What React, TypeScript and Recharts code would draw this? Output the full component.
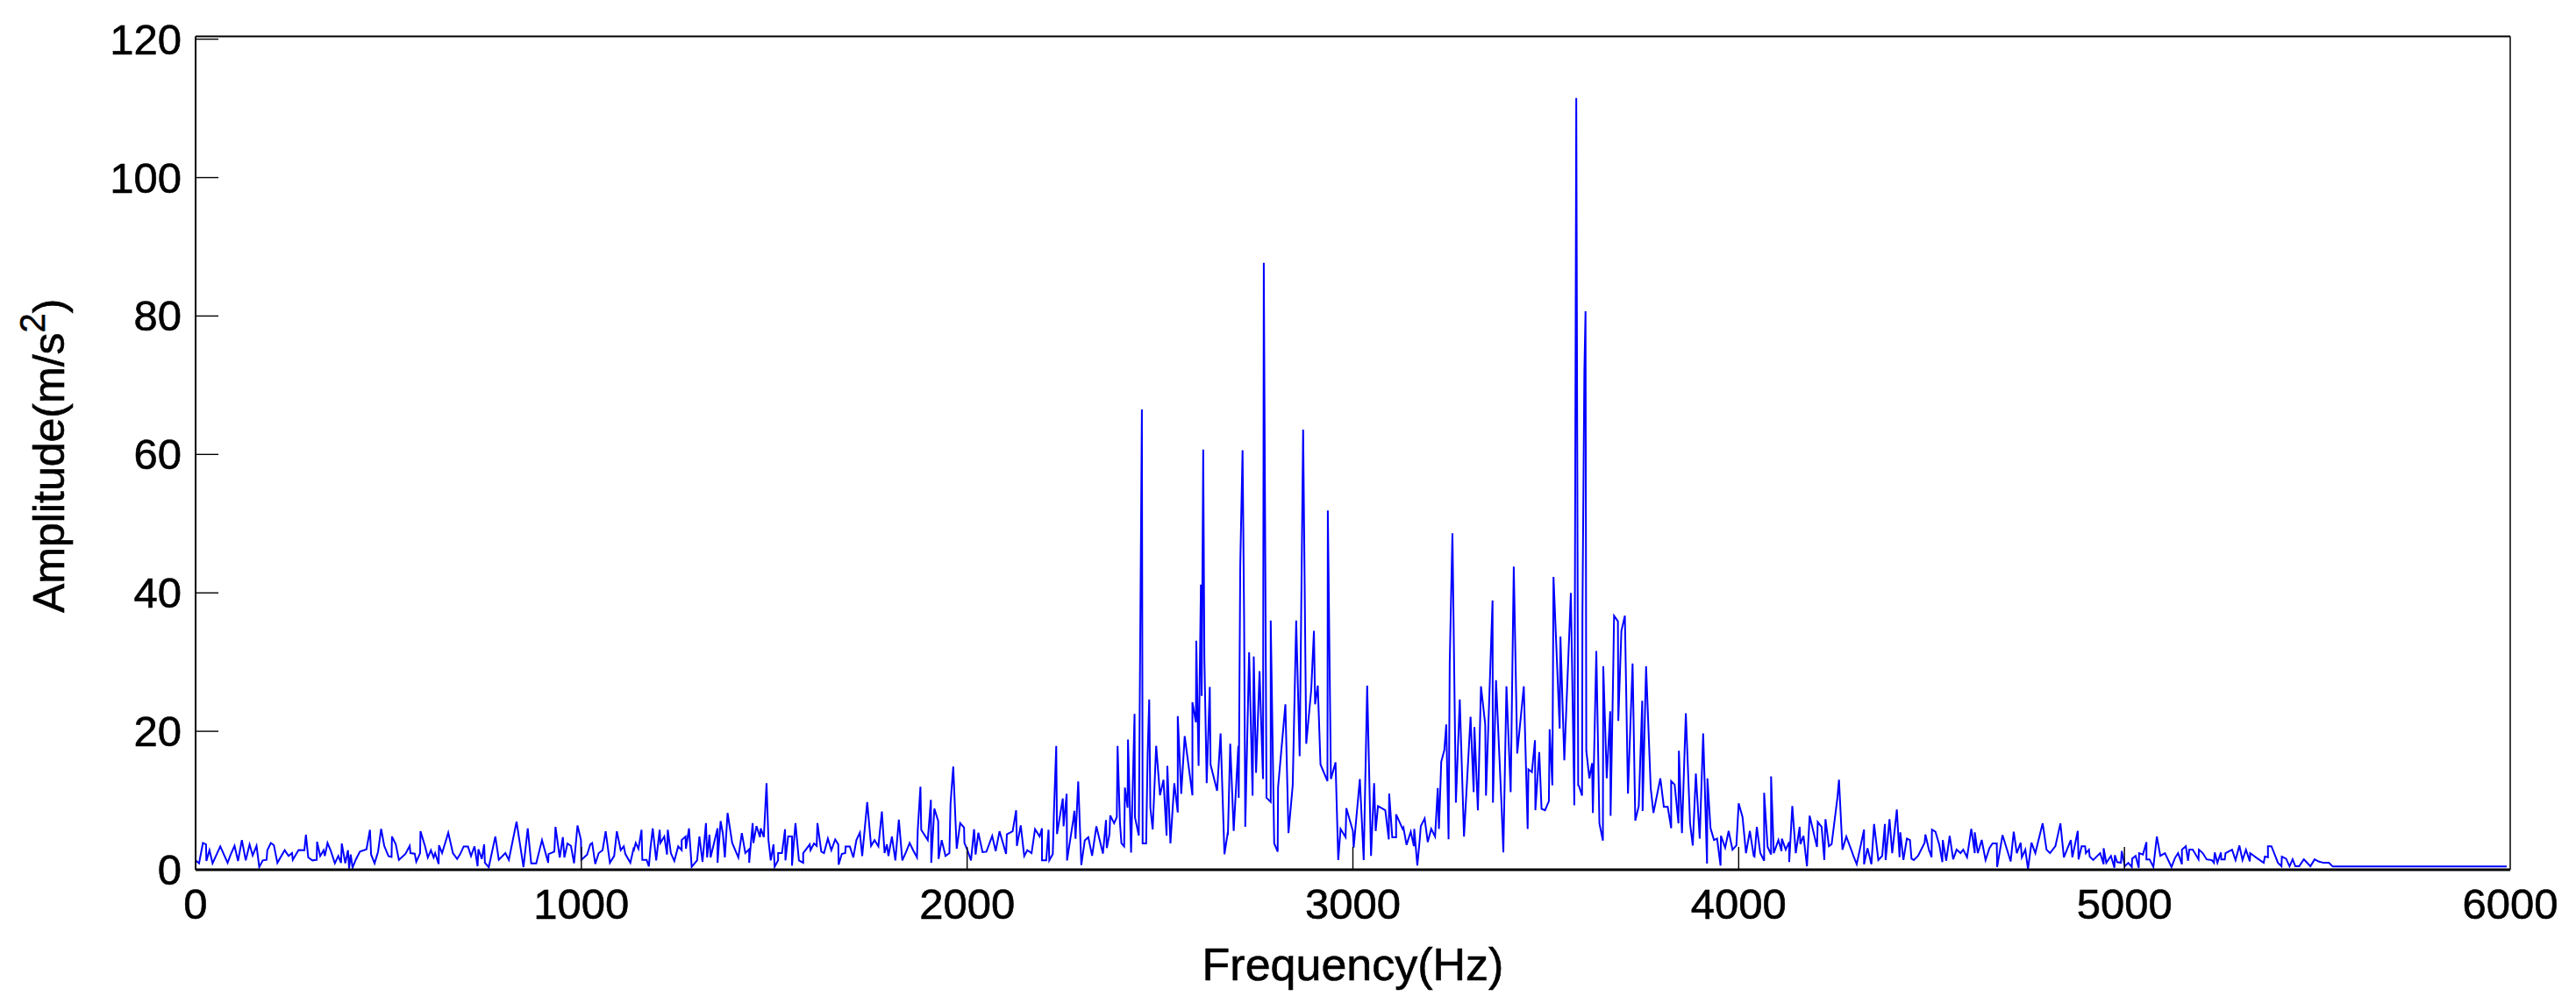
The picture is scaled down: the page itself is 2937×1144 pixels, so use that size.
import { Label, Line, LineChart, XAxis, YAxis } from "recharts";

// Spectrum as [Hz, m/s^2] pairs, split by frequency band.
const band0to1136 = [
  [0,1.35],[9,.93],[19,3.87],[27,3.66],[28,1.26],[36,2.82],[44,.93],[64,3.37],[83,1],[91,2.19],[101,3.45],[110,1.26],[120,4.29],[130,1.35],[140,3.66],[148,2.06],[158,3.45],[165,.38],[174,1.35],[184,1.43],[186,2.82],[195,3.87],[203,3.54],[212,1],[231,2.82],[241,1.98],[250,2.4],[252,1.43],[267,2.85],[282,2.82],[286,5.05],[292,1.77],[303,1.35],[314,1.43],[315,4.04],[323,1.98],[332,2.82],[335,1.98],[342,3.87],[350,2.82],[361,.93],[370,1.98],[377,1],[379,3.79],[388,.93],[395,2.82],[398,.17],[402,2.19],[407,.3],[415,1.43],[426,2.62],[443,2.95],[452,5.77],[455,2.19],[464,.93],[473,2.6],[481,5.9],[489,3.45],[500,1.98],[508,1.85],[509,4.8],[519,3.66],[527,1.43],[544,2.28],[555,3.45],[557,2.4],[568,2.32],[572,1.14],[582,2.4],[583,5.56],[595,3.37],[602,1.77],[610,2.82],[617,1.77],[621,2.4],[630,.84],[631,3.54],[639,2.4],[655,5.35],[667,2.4],[678,1.56],[686,2.27],[695,3.37],[706,3.37],[714,1.98],[723,3.37],[731,.5],[733,2.95],[742,1.56],[748,3.66],[750,1],[760,.38],[777,4.8],[786,1.43],[803,2.4],[812,1.43],[832,6.94],[850,.38],[861,5.98],[870,.93],[883,.93],[898,4.29],[914,1],[915,2.27],[930,2.62],[933,6.19],[944,1.77],[952,4.71],[956,1.77],[964,3.79],[973,3.45],[981,.93],[990,6.4],[999,4.29],[1000,1.43],[1015,2.19],[1023,3.66],[1028,3.87],[1036,.84],[1045,2.4],[1055,2.82],[1063,5.56],[1074,1],[1085,1.98],[1092,5.56],[1102,2.82],[1110,3.37],[1114,2.27],[1127,1],[1136,3.24],
];
const band1137to2213 = [
  [1137,3.03],[1141,3.87],[1148,3.03],[1156,5.77],[1158,1.43],[1169,1.43],[1175,.5],[1179,3.03],[1185,5.98],[1194,1.35],[1203,5.77],[1205,3.87],[1215,4.8],[1222,2.19],[1224,5.77],[1232,2.4],[1241,1.26],[1251,3.37],[1260,2.82],[1260,4.29],[1270,4.8],[1271,3.03],[1279,5.98],[1286,.42],[1300,1.35],[1306,4.8],[1314,1.14],[1323,6.73],[1326,1.77],[1332,5.05],[1335,1.77],[1353,5.98],[1353,1],[1361,7.03],[1367,5.13],[1372,1.77],[1379,8.2],[1391,3.87],[1407,1.77],[1416,5.3],[1425,2.4],[1435,2.95],[1435,1],[1444,6.73],[1446,3.87],[1454,6.31],[1463,4.71],[1465,5.98],[1473,4.71],[1480,12.5],[1485,4.29],[1491,1.35],[1498,3.66],[1501,.42],[1510,1.35],[1510,2.4],[1520,2.4],[1528,5.85],[1529,1.35],[1536,4.8],[1546,4.8],[1546,.59],[1555,6.73],[1564,1.35],[1575,1],[1575,2.4],[1592,3.66],[1594,2.82],[1603,3.79],[1610,3.45],[1612,6.73],[1622,2.61],[1629,2.4],[1639,4.5],[1648,2.82],[1658,4.38],[1666,3.66],[1667,.72],[1675,2.27],[1684,2.4],[1685,3.37],[1696,3.37],[1705,1.77],[1713,4.29],[1722,5.35],[1728,1.98],[1741,9.76],[1751,3.45],[1760,4.29],[1770,3.37],[1779,8.42],[1786,2.4],[1792,3.66],[1796,1.98],[1805,4.8],[1814,1.35],[1823,7.24],[1832,1.35],[1842,2.61],[1851,3.87],[1860,2.82],[1870,1.77],[1872,5.77],[1879,12],[1881,5.77],[1898,4.29],[1906,10.1],[1907,1],[1915,8.84],[1925,7.03],[1926,1.56],[1934,4.29],[1944,1.98],[1954,2.4],[1957,9.55],[1964,14.9],[1970,6.82],[1973,3.03],[1982,6.73],[1992,6.1],[1993,3.87],[2001,2.82],[2010,1.35],[2018,5.85],[2022,2.19],[2029,5.35],[2040,2.54],[2050,2.61],[2065,4.89],[2074,2.7],[2084,5.56],[2101,2.27],[2103,5.13],[2118,5.56],[2127,8.59],[2129,3.45],[2139,6.4],[2148,1.98],[2156,2.82],[2167,2.4],[2176,5.85],[2188,4.8],[2194,5.98],[2194,1.35],[2205,1.35],[2211,5.77],[2213,1.35],
];
const band2222to2675 = [
  [2222,2.24],[2225,8.28],[2231,17.9],[2233,5.15],[2248,10.3],[2250,6.27],[2258,10.97],[2259,1.34],[2275,7.17],[2278,8.51],[2281,4.48],[2288,12.76],[2296,.67],[2305,4.25],[2314,4.7],[2324,2.02],[2335,6.27],[2352,2.33],[2360,7.17],[2362,3.13],[2369,5.15],[2371,7.84],[2381,6.72],[2388,7.61],[2390,17.9],[2396,6.94],[2400,3.81],[2407,3.36],[2409,11.87],[2416,8.96],[2417,18.8],[2425,2.46],[2434,22.5],[2435,7.61],[2445,4.93],[2447,20.6],[2449,35.8],[2453,66.5],[2455,3.81],[2464,3.81],[2468,16.8],[2472,24.6],[2475,8.96],[2481,5.82],[2490,17.9],[2500,10.75],[2509,13],[2517,4.93],[2519,15],[2527,3.81],[2537,12.5],[2546,8.28],[2546,22.2],[2555,10.97],[2564,19.3],[2584,10.75],[2584,24.2],[2593,21.3],[2594,33.1],[2600,15],[2606,41.2],[2608,25.1],[2612,60.7],[2615,30.5],[2621,12.5],[2629,26.4],[2631,15.2],[2648,11.4],[2657,19.7],[2667,2.24],[2675,5.15],
];
const band2676to3129 = [
  [2676,5],[2682,18.2],[2691,5.6],[2703,17.9],[2704,10.4],[2708,44.1],[2714,60.6],[2718,36.3],[2721,6.2],[2731,31.4],[2740,10.7],[2743,30.8],[2749,14],[2758,28.7],[2767,13.1],[2769,87.7],[2776,10.4],[2787,9.8],[2787,36],[2796,3.8],[2805,2.6],[2806,11.9],[2825,23.9],[2833,5.3],[2844,12.2],[2853,36],[2862,16.4],[2871,63.6],[2879,18.2],[2892,26],[2899,34.5],[2902,23.9],[2909,26.6],[2916,15.2],[2934,12.8],[2935,51.9],[2943,13.1],[2955,15.5],[2962,1.4],[2968,5.9],[2981,4.7],[2983,8.9],[3000,5.6],[3002,3.2],[3018,13.1],[3028,1.4],[3037,26.6],[3047,2],[3055,12.5],[3059,5.6],[3065,9.2],[3084,8.6],[3093,4.4],[3094,11],[3102,4.7],[3112,4.7],[3112,8],[3129,5.9],
];
const band3131to3584 = [
  [3131,6.1],[3139,3.6],[3150,5.5],[3158,3.4],[3159,5.9],[3167,.6],[3173,4.2],[3176,6.3],[3186,7.4],[3194,4],[3203,5.9],[3213,4.8],[3220,11.8],[3223,5.9],[3229,15.6],[3237,17.3],[3242,21],[3248,4.4],[3251,29.9],[3258,48.6],[3267,9.7],[3277,24.6],[3288,4.8],[3305,22.1],[3313,11.2],[3315,20.6],[3324,8.6],[3332,26.5],[3343,21],[3345,10.7],[3362,38.9],[3363,9.7],[3371,27.4],[3385,9.7],[3390,2.5],[3398,26.5],[3409,11.2],[3417,43.8],[3426,16.8],[3443,26.5],[3453,5.9],[3455,14.5],[3464,14.1],[3472,18.7],[3473,8.6],[3483,17],[3489,8.8],[3498,8.6],[3508,9.9],[3510,20.3],[3517,12.2],[3520,42.3],[3536,20.4],[3538,33.7],[3548,15.8],[3565,40],[3574,9.3],[3579,111.5],[3584,12.2],
];
const band3586to4039 = [
  [3586,12.1],[3594,10.7],[3595,37],[3600,72],[3603,80.7],[3605,17.2],[3613,13.2],[3620,15.4],[3622,8.2],[3631,31.6],[3639,6.7],[3648,4.2],[3649,29.4],[3658,13.2],[3667,22.9],[3668,7.8],[3675,29.4],[3677,36.7],[3687,35.9],[3688,21.5],[3696,34.5],[3705,36.7],[3713,11],[3725,29.8],[3732,7.1],[3741,9.2],[3750,24.4],[3751,8.5],[3760,29.4],[3772,11.8],[3779,8.2],[3797,13.2],[3806,9.1],[3816,9.1],[3825,6],[3825,12.8],[3834,12.3],[3844,6.7],[3845,17.2],[3853,5.3],[3863,22.6],[3874,6.7],[3881,3.5],[3889,13.9],[3899,4.5],[3908,19.7],[3918,.9],[3919,13.2],[3927,6],[3936,4.3],[3944,4.5],[3953,.6],[3954,4.9],[3965,3.2],[3974,5.6],[3984,2.9],[3994,3.5],[4000,9.6],[4010,7.6],[4019,2.4],[4029,5.6],[4039,2],
];
const band4041to4494 = [
  [4041,1.9],[4047,6.2],[4056,2.4],[4066,1.3],[4066,11.1],[4075,3.3],[4084,2.2],[4084,13.5],[4091,2.4],[4103,4.3],[4111,2.7],[4112,4.5],[4122,2.9],[4131,4],[4131,1.1],[4139,9.2],[4148,2.4],[4158,6.2],[4160,3.7],[4168,4.9],[4177,.5],[4184,7.8],[4203,3.3],[4205,6.9],[4215,6.2],[4222,1.4],[4225,7.3],[4234,3.4],[4241,3.7],[4256,10.4],[4260,13],[4269,2.9],[4279,4.8],[4293,2.7],[4298,1.9],[4306,.8],[4325,5.8],[4325,.8],[4334,3.1],[4344,.8],[4351,6.6],[4362,1.4],[4372,2],[4379,6.6],[4381,1.4],[4391,7.3],[4398,2.4],[4410,8.7],[4417,1.8],[4419,5.4],[4427,1.4],[4436,4.5],[4444,4.3],[4448,1.6],[4454,1.4],[4465,2],[4482,3.9],[4484,5.1],[4494,2.7],
];
const band4495to5991 = [
  [4495,2.65],[4500,1.8],[4501,5.8],[4510,5.5],[4520,3.6],[4528,1.1],[4529,4.3],[4538,1.3],[4547,4.9],[4556,1.5],[4565,2.9],[4575,2.4],[4582,2.9],[4592,1.8],[4603,5.9],[4612,2.4],[4612,5.4],[4620,2.4],[4630,4.3],[4640,1.4],[4650,3.1],[4658,3.8],[4669,3.8],[4670,.4],[4684,5],[4705,1.2],[4713,5.5],[4721,2.4],[4731,3.9],[4734,1.8],[4743,2.9],[4750,.1],[4759,3.9],[4769,2.4],[4788,6.7],[4798,2.9],[4807,2.4],[4821,3.4],[4834,6.7],[4843,1.8],[4861,4.3],[4865,1.8],[4879,5.6],[4881,1.5],[4889,3.4],[4898,3.4],[4900,2.4],[4908,2.9],[4910,1.9],[4919,1.4],[4937,2.4],[4946,.8],[4946,3.1],[4953,1],[4965,2],[4974,.3],[4975,2.1],[4981,1.1],[4991,1],[4993,2.7],[5001,.5],[5010,1],[5019,.4],[5020,1.6],[5029,2],[5037,.3],[5038,2.4],[5048,2.2],[5057,4],[5057,1.5],[5065,1.5],[5075,.4],[5084,4.8],[5093,2],[5105,2.4],[5122,.4],[5131,1.7],[5139,2.4],[5149,.8],[5149,2.9],[5159,3.4],[5165,1.3],[5168,2.9],[5177,2.9],[5192,1.5],[5193,2.9],[5203,2.4],[5213,1.5],[5226,1.4],[5232,1],[5234,2.5],[5241,1],[5250,2.5],[5251,1.5],[5260,1.5],[5262,2.4],[5279,2.9],[5288,1.4],[5298,3.5],[5306,1.4],[5315,2.9],[5325,1.2],[5326,2.4],[5343,1.7],[5361,1],[5364,1.9],[5372,1.8],[5372,3.4],[5381,3.4],[5398,1],[5407,.5],[5408,1.9],[5419,1.6],[5428,.5],[5436,1.5],[5443,.5],[5453,.5],[5465,1.5],[5482,.5],[5493,1.5],[5503,1.2],[5516,1],[5530,1],[5540,.46],[5991,.46],
];

const xTicks = [0, 1000, 2000, 3000, 4000, 5000, 6000];
const yTicks = [0, 20, 40, 60, 80, 100, 120];

const spectrum = [
  ...band0to1136,
  ...band1137to2213,
  ...band2222to2675,
  ...band2676to3129,
  ...band3131to3584,
  ...band3586to4039,
  ...band4041to4494,
  ...band4495to5991,
].map(([hz, amp]) => ({ hz, amp }));

const FONT = '"Liberation Sans", Arial, sans-serif';
const TICK_LEN = 26;
// the reference text is a little heavier than the plain font
const TEXT_WEIGHT = { fill: "#000", stroke: "#000", strokeWidth: 0.6 };

function BottomTick({ x, y, payload }: any) {
  const edge = payload.value === 0 || payload.value === 6000;
  return (
    <g>
      {!edge && <line x1={x} x2={x} y1={y} y2={y - TICK_LEN} stroke="#000" strokeWidth={1.4} />}
      <text x={x} y={y + 56} textAnchor="middle" fontSize={49} fontFamily={FONT} {...TEXT_WEIGHT}>
        {payload.value}
      </text>
    </g>
  );
}

function TopTick({ x, y, payload }: any) {
  if (payload.value === 0 || payload.value === 6000) return <g />;
  return <line x1={x} x2={x} y1={y + 3} y2={y + TICK_LEN} stroke="#000" strokeWidth={1.4} />;
}

function LeftTick({ x, y, payload }: any) {
  return (
    <g>
      {payload.value !== 0 && <line x1={x} x2={x + TICK_LEN} y1={y} y2={y} stroke="#000" strokeWidth={1.4} />}
      <text x={x - 16} y={y + 17} textAnchor="end" fontSize={49} fontFamily={FONT} {...TEXT_WEIGHT}>
        {payload.value}
      </text>
    </g>
  );
}

function RightTick({ x, y, payload }: any) {
  if (payload.value === 0) return <g />;
  return <line x1={x} x2={x - TICK_LEN} y1={y} y2={y} stroke="#000" strokeWidth={1.4} />;
}

function AmplitudeTitle() {
  return (
    <text
      transform="translate(73 699) rotate(-90)"
      fontSize={50}
      fontFamily={FONT}
      {...TEXT_WEIGHT}
    >
      Amplitude(m/s
      <tspan fontSize={40} dy={-22}>2</tspan>
      <tspan dy={22}>)</tspan>
    </text>
  );
}

export default function App() {
  return (
    <div style={{ position: "absolute", left: 0, top: 0, width: 2937, height: 1144, background: "#fff" }}>
      <LineChart
        width={2937}
        height={1144}
        data={spectrum}
        margin={{ top: 40.5, right: 74, bottom: 151, left: 222 }}
      >
        <XAxis
          xAxisId="bottom"
          dataKey="hz"
          type="number"
          domain={[0, 6000]}
          ticks={xTicks}
          interval={0}
          height={1}
          tickSize={0}
          tickMargin={0}
          tickLine={false}
          tick={BottomTick}
          axisLine={{ stroke: "#000", strokeWidth: 3 }}
        >
          <Label
            value="Frequency(Hz)"
            position="bottom"
            offset={88}
            fontSize={52}
            fontFamily={FONT}
            {...TEXT_WEIGHT}
          />
        </XAxis>
        <XAxis
          xAxisId="top"
          orientation="top"
          type="number"
          domain={[0, 6000]}
          ticks={xTicks}
          interval={0}
          height={1}
          tickSize={0}
          tickMargin={0}
          tickLine={false}
          tick={TopTick}
          axisLine={{ stroke: "#000", strokeWidth: 2 }}
        />
        <YAxis
          yAxisId="left"
          type="number"
          domain={[0, 120.4]}
          ticks={yTicks}
          interval={0}
          width={1}
          tickSize={0}
          tickMargin={0}
          tickLine={false}
          tick={LeftTick}
          axisLine={{ stroke: "#000", strokeWidth: 2 }}
        >
          <Label content={AmplitudeTitle} />
        </YAxis>
        <YAxis
          yAxisId="right"
          orientation="right"
          type="number"
          domain={[0, 120.4]}
          ticks={yTicks}
          interval={0}
          width={1}
          tickSize={0}
          tickMargin={0}
          tickLine={false}
          tick={RightTick}
          axisLine={{ stroke: "#000", strokeWidth: 1.5 }}
        />
        <Line
          xAxisId="bottom"
          yAxisId="left"
          dataKey="amp"
          type="linear"
          stroke="#0000ff"
          strokeWidth={2}
          dot={false}
          isAnimationActive={false}
        />
      </LineChart>
    </div>
  );
}
